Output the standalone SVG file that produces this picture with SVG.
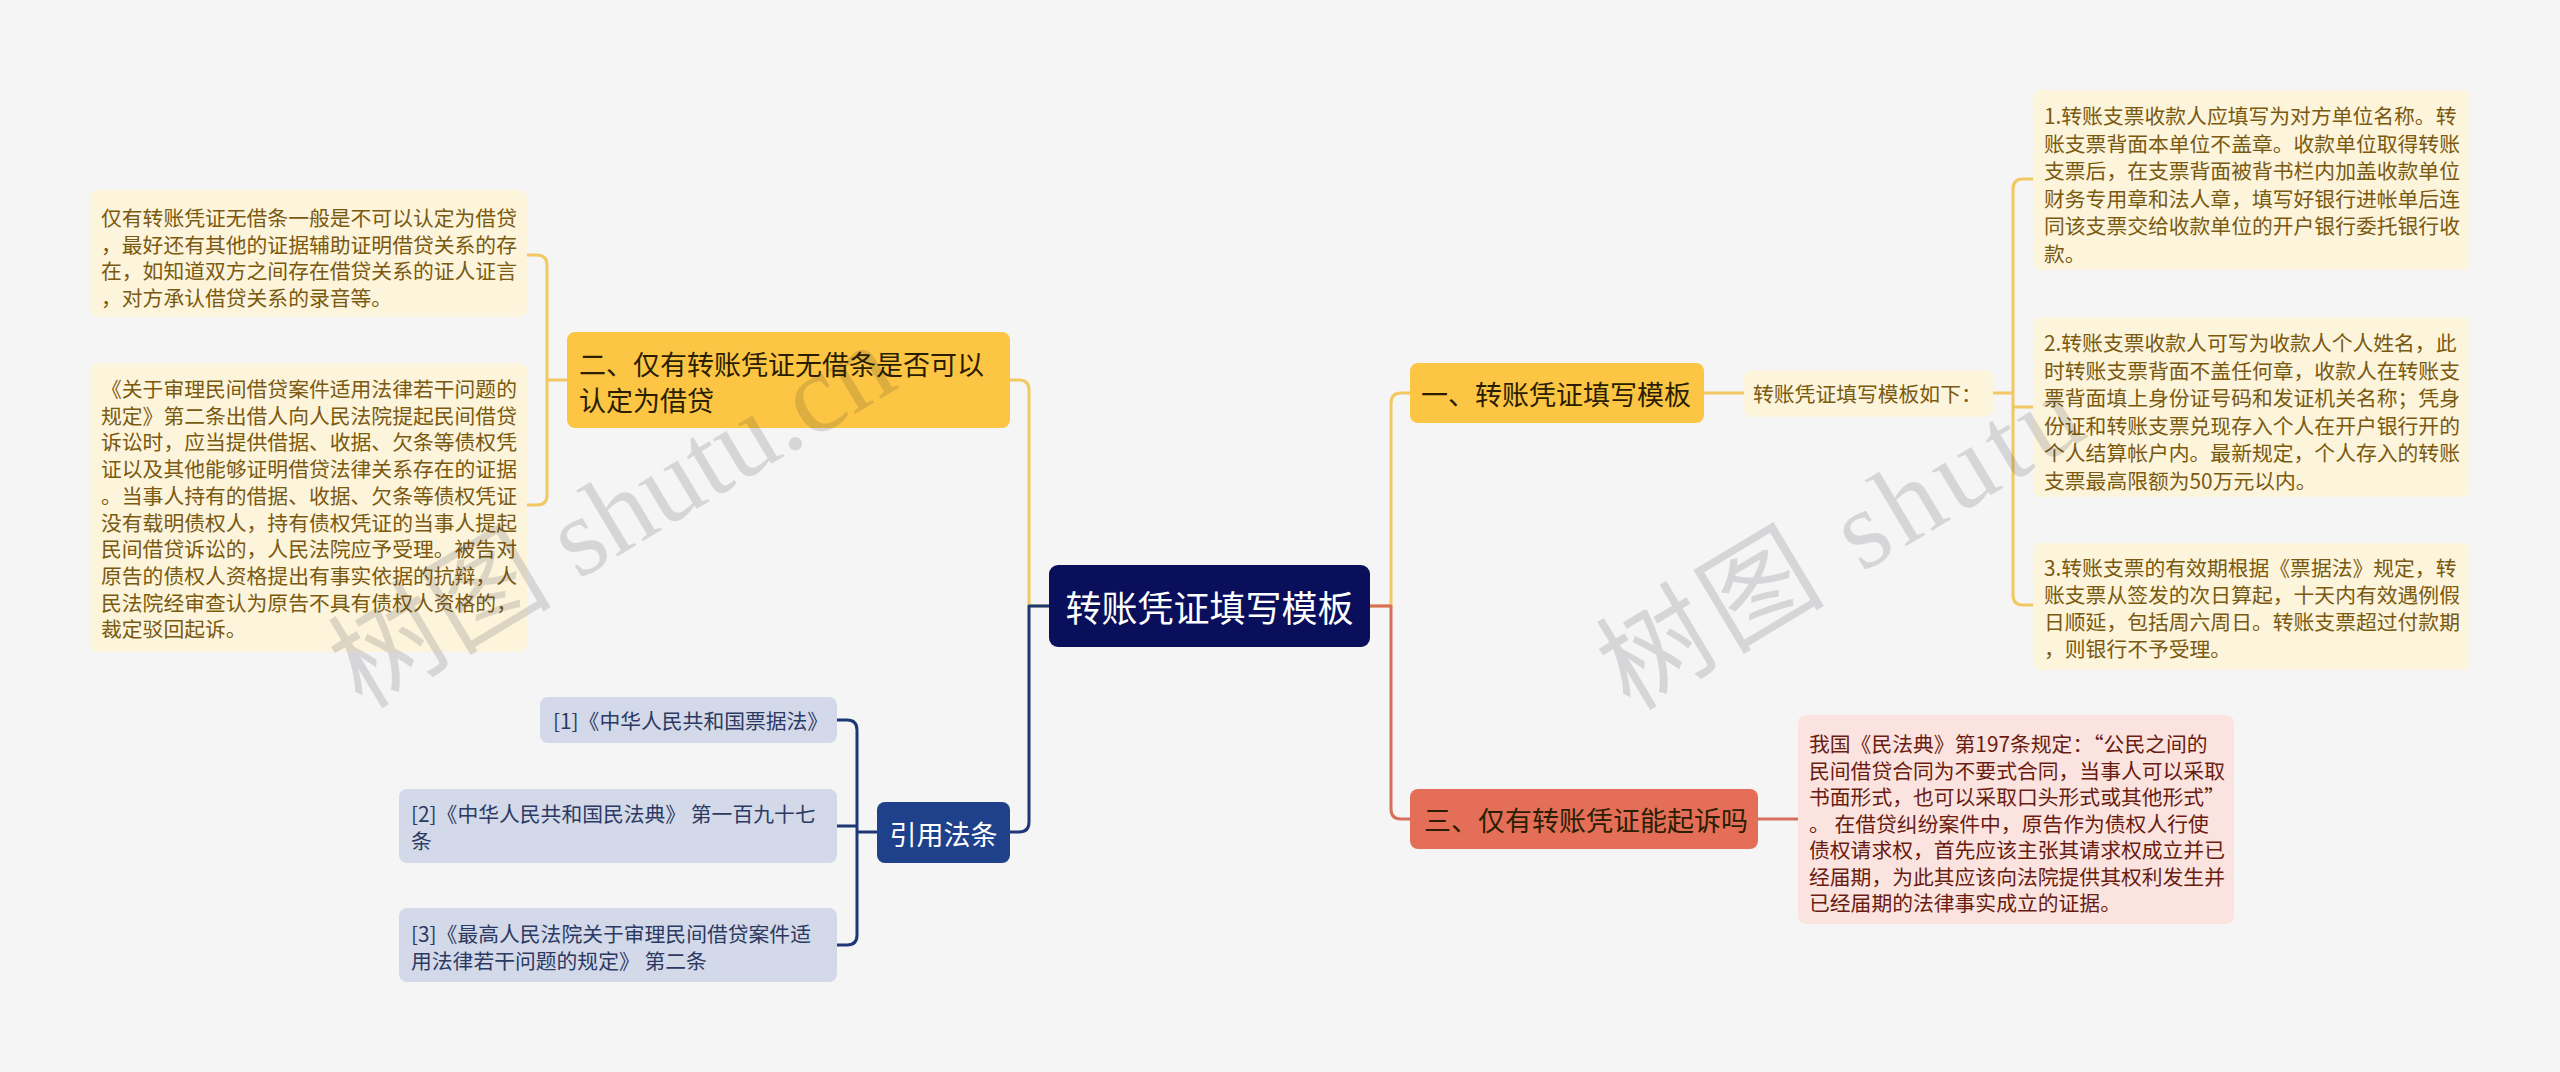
<svg xmlns="http://www.w3.org/2000/svg" width="2560" height="1072" viewBox="0 0 2560 1072">
<style>
text{font-family:"Noto Sans CJK SC","Noto Sans",sans-serif;dominant-baseline:central}
.c{fill:none;stroke-width:3;stroke-linecap:round;stroke-linejoin:round}
.cy{stroke:#f2c862}.cb{stroke:#1d3777}.cr{stroke:#d6705c}
.leafY{fill:#fdf4dc}.leafP{fill:#fbe4e0}.leafB{fill:#d3d9e9}
.tY{font-size:20.8px;fill:#7a5a10}.tP{font-size:20.8px;fill:#6a1c10}.tB{font-size:20.8px;fill:#2c3a63}
.tN{font-size:27px;fill:#2b1e00}.tW{fill:#ffffff}
.wm{font-family:"Liberation Serif","Noto Sans CJK SC",serif;font-size:112px;fill:#1a1a2a;fill-opacity:0.14;dominant-baseline:auto}
</style>
<rect width="2560" height="1072" fill="#f5f5f5"/>
<g id="connectors">
<path class="c cy" d="M1010,380 H1019 Q1029,380 1029,390 V606 H1049"/>
<path class="c cb" d="M1049,606 H1029 V822 Q1029,832 1019,832 H1010"/>
<path class="c cy" d="M1370,606 H1391 V403 Q1391,393 1401,393 H1410"/>
<path class="c cr" d="M1370,606 H1391 V809 Q1391,819 1401,819 H1410"/>
<path class="c cy" d="M567,380 H547 M527,255 H537 Q547,255 547,265 V495 Q547,505 537,505 H527"/>
<path class="c cy" d="M1704,393 H1744"/>
<path class="c cy" d="M1993,393 H2013 M2033,179 H2023 Q2013,179 2013,189 V595 Q2013,605 2023,605 H2033 M2013,407 H2033"/>
<path class="c cr" d="M1758,819 H1798"/>
<path class="c cb" d="M877,832 H857 M837,720 H847 Q857,720 857,730 V935 Q857,945 847,945 H837 M857,826 H837"/>
</g>
<g id="root">
<rect x="1049" y="565" width="321" height="82" rx="9" fill="#0a0f5b"/>
<text class="tW" x="1209.5" y="606" text-anchor="middle" font-size="36">转账凭证填写模板</text>
</g>
<g id="n1">
<rect x="1410" y="363" width="294" height="60" rx="8" fill="#fcc543"/>
<text class="tN" x="1421" y="393">一、转账凭证填写模板</text>
</g>
<g id="n1a">
<rect x="1744" y="370" width="249" height="47" rx="8" class="leafY"/>
<text class="tY" x="1753" y="393">转账凭证填写模板如下：</text>
</g>
<g id="n1a1">
<rect x="2033" y="90" width="437" height="180" rx="8" class="leafY"/>
<text class="tY" x="2044">
<tspan x="2044" y="115">1.转账支票收款人应填写为对方单位名称。转</tspan>
<tspan x="2044" y="142.5">账支票背面本单位不盖章。收款单位取得转账</tspan>
<tspan x="2044" y="170">支票后，在支票背面被背书栏内加盖收款单位</tspan>
<tspan x="2044" y="197.5">财务专用章和法人章，填写好银行进帐单后连</tspan>
<tspan x="2044" y="225">同该支票交给收款单位的开户银行委托银行收</tspan>
<tspan x="2044" y="252.5">款。</tspan>
</text>
</g>
<g id="n1a2">
<rect x="2033" y="317" width="437" height="180" rx="8" class="leafY"/>
<text class="tY">
<tspan x="2044" y="342">2.转账支票收款人可写为收款人个人姓名，此</tspan>
<tspan x="2044" y="369.5">时转账支票背面不盖任何章，收款人在转账支</tspan>
<tspan x="2044" y="397">票背面填上身份证号码和发证机关名称；凭身</tspan>
<tspan x="2044" y="424.5">份证和转账支票兑现存入个人在开户银行开的</tspan>
<tspan x="2044" y="452">个人结算帐户内。最新规定，个人存入的转账</tspan>
<tspan x="2044" y="479.5">支票最高限额为50万元以内。</tspan>
</text>
</g>
<g id="n1a3">
<rect x="2033" y="543" width="437" height="127" rx="8" class="leafY"/>
<text class="tY">
<tspan x="2044" y="567">3.转账支票的有效期根据《票据法》规定，转</tspan>
<tspan x="2044" y="594">账支票从签发的次日算起，十天内有效遇例假</tspan>
<tspan x="2044" y="621">日顺延，包括周六周日。转账支票超过付款期</tspan>
<tspan x="2044" y="648">，则银行不予受理。</tspan>
</text>
</g>
<g id="n3">
<rect x="1410" y="789" width="348" height="60" rx="8" fill="#e56e58"/>
<text class="tN" x="1424" y="819">三、仅有转账凭证能起诉吗</text>
</g>
<g id="n3a">
<rect x="1798" y="715" width="436" height="209" rx="8" class="leafP"/>
<text class="tP">
<tspan x="1809" y="743">我国《民法典》第197条规定：“公民之间的</tspan>
<tspan x="1809" y="769.5">民间借贷合同为不要式合同，当事人可以采取</tspan>
<tspan x="1809" y="796">书面形式，也可以采取口头形式或其他形式”</tspan>
<tspan x="1809" y="822.5">。 在借贷纠纷案件中，原告作为债权人行使</tspan>
<tspan x="1809" y="849">债权请求权，首先应该主张其请求权成立并已</tspan>
<tspan x="1809" y="875.5">经届期，为此其应该向法院提供其权利发生并</tspan>
<tspan x="1809" y="902">已经届期的法律事实成立的证据。</tspan>
</text>
</g>
<g id="n2">
<rect x="567" y="332" width="443" height="96" rx="8" fill="#fcc543"/>
<text class="tN">
<tspan x="579" y="363">二、仅有转账凭证无借条是否可以</tspan>
<tspan x="579" y="399">认定为借贷</tspan>
</text>
</g>
<g id="n2a">
<rect x="90" y="190" width="437" height="127" rx="8" class="leafY"/>
<text class="tY">
<tspan x="101" y="217">仅有转账凭证无借条一般是不可以认定为借贷</tspan>
<tspan x="101" y="243.5">，最好还有其他的证据辅助证明借贷关系的存</tspan>
<tspan x="101" y="270">在，如知道双方之间存在借贷关系的证人证言</tspan>
<tspan x="101" y="296.5">，对方承认借贷关系的录音等。</tspan>
</text>
</g>
<g id="n2b">
<rect x="90" y="363" width="437" height="289" rx="8" class="leafY"/>
<text class="tY">
<tspan x="101" y="388">《关于审理民间借贷案件适用法律若干问题的</tspan>
<tspan x="101" y="414.7">规定》第二条出借人向人民法院提起民间借贷</tspan>
<tspan x="101" y="441.4">诉讼时，应当提供借据、收据、欠条等债权凭</tspan>
<tspan x="101" y="468.1">证以及其他能够证明借贷法律关系存在的证据</tspan>
<tspan x="101" y="494.8">。当事人持有的借据、收据、欠条等债权凭证</tspan>
<tspan x="101" y="521.5">没有载明债权人，持有债权凭证的当事人提起</tspan>
<tspan x="101" y="548.2">民间借贷诉讼的，人民法院应予受理。被告对</tspan>
<tspan x="101" y="574.9">原告的债权人资格提出有事实依据的抗辩，人</tspan>
<tspan x="101" y="601.6">民法院经审查认为原告不具有债权人资格的，</tspan>
<tspan x="101" y="628.3">裁定驳回起诉。</tspan>
</text>
</g>
<g id="n4">
<rect x="877" y="802" width="133" height="61" rx="8" fill="#1f418c"/>
<text class="tW" x="943.5" y="833" text-anchor="middle" font-size="27">引用法条</text>
</g>
<g id="n4a">
<rect x="540" y="697" width="297" height="46" rx="8" class="leafB"/>
<text class="tB" x="553" y="720">[1]《中华人民共和国票据法》</text>
</g>
<g id="n4b">
<rect x="399" y="789" width="438" height="74" rx="8" class="leafB"/>
<text class="tB">
<tspan x="411" y="813">[2]《中华人民共和国民法典》 第一百九十七</tspan>
<tspan x="411" y="840">条</tspan>
</text>
</g>
<g id="n4c">
<rect x="399" y="908" width="438" height="74" rx="8" class="leafB"/>
<text class="tB">
<tspan x="411" y="933">[3]《最高人民法院关于审理民间借贷案件适</tspan>
<tspan x="411" y="960">用法律若干问题的规定》 第二条</tspan>
</text>
</g>
<g id="watermark">
<text class="wm" transform="translate(362,710) rotate(-31)">树图 shutu.cn</text>
<text class="wm" transform="translate(1630,712) rotate(-31)" letter-spacing="6">树图 shutu</text>
</g>
</svg>
